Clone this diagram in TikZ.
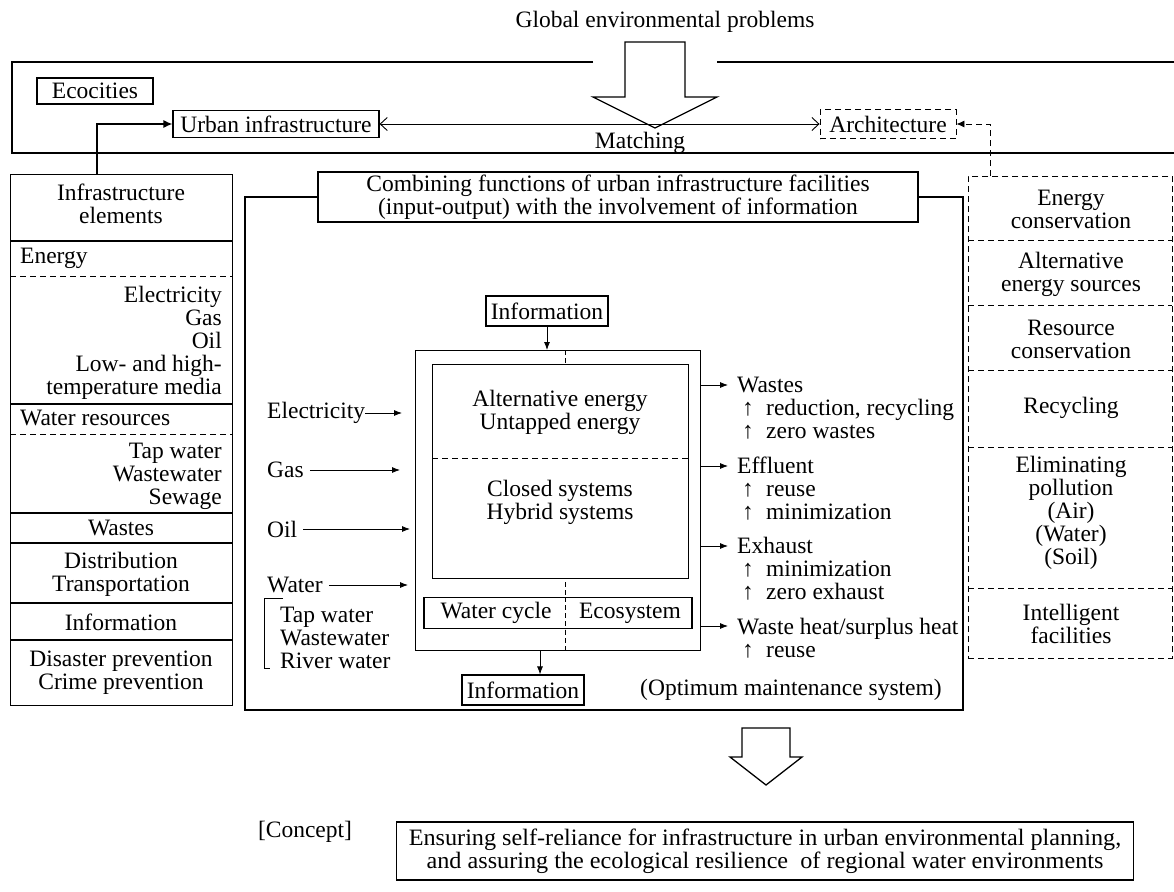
\documentclass[tikz,border=0pt]{standalone}
\usepackage{fontspec}
\setmainfont{Liberation Serif}
\usetikzlibrary{arrows.meta}
\newcommand\fs{\fontsize{23.5}{23}\selectfont}
\newcommand\up[1]{\hspace*{5pt}\makebox[24pt][l]{↑}#1}
\newcommand\wide[1]{\scalebox{1.03}[1]{#1}}
\begin{document}
\begin{tikzpicture}[x=1pt,y=-1pt,
  txt/.style={font=\fs, inner sep=0pt, align=center},
  box/.style={draw, line width=1.2pt, font=\fs, inner sep=0pt, align=center, fill=white},
  dbox/.style={box, dash pattern=on 6pt off 4pt, line width=0.9pt},
  rule/.style={line width=1.2pt},
  drule/.style={line width=0.9pt, dash pattern=on 6pt off 4pt},
  frame/.style={line width=1.6pt},
  arr/.style={line width=0.8pt, -{Latex[length=8pt,width=6pt]}},
  barbs/.style={line width=0.9pt, {Straight Barb[length=7pt,width=13pt]}-{Straight Barb[length=7pt,width=13pt]}},
  hollow/.style={line width=1.3pt, fill=white}]
\fill[white] (0,0) rectangle (1174,891);
\useasboundingbox (0,0) rectangle (1174,891);

% ---- top band ----
\node[txt] (title) at (665,22) {Global environmental problems};
\draw[frame] (593,62) -- (12,62) -- (12,153) -- (1174,153);
\draw[frame] (717,62) -- (1174,62);
\draw[hollow] (625,42) -- (685,42) -- (685,97) -- (717,97) -- (655,128) -- (593,97) -- (625,97) -- cycle;

\node[box, minimum width=116pt, minimum height=26pt] (eco) at (95,91) {Ecocities};
\node[box, minimum width=206pt, minimum height=27pt] (urban) at (276,124) {Urban infrastructure};
\node[dbox, minimum width=136pt, minimum height=29pt] (arch) at (888,124) {Architecture};
\draw[barbs] (urban.east) -- (arch.west);
\node[txt] (match) at (640,143) {Matching};

% ---- infrastructure elements column ----
\node[box, anchor=north west, minimum width=222pt, minimum height=531pt] (elem) at (10,174) {};
\coordinate (etap) at (97,174);
\draw[rule, -{Latex[length=9pt,width=8pt]}] (etap) |- (urban.west);
\node[txt] (e0) at (121,204) {Infrastructure\\elements};
\draw[rule] (10,241) -- (232,241);
\node[txt, anchor=west] (e1) at (20,258) {Energy};
\draw[drule] (10,276) -- (232,276);
\node[txt, anchor=east, align=right] (e2) at (222,343) {Electricity\\Gas\\Oil\\Low- and high-\\temperature media};
\draw[rule] (10,404) -- (232,404);
\node[txt, anchor=west] (e3) at (20,418) {Water resources};
\draw[drule] (10,434) -- (232,434);
\node[txt, anchor=east, align=right] (e4) at (222,476) {Tap water\\Wastewater\\Sewage};
\draw[rule] (10,513) -- (232,513);
\node[txt] (e5) at (121,528) {Wastes};
\draw[rule] (10,543) -- (232,543);
\node[txt] (e6) at (121,574) {Distribution\\Transportation};
\draw[rule] (10,603) -- (232,603);
\node[txt] (e7) at (121,622) {Information};
\draw[rule] (10,640) -- (232,640);
\node[txt] (e8) at (121,673) {Disaster prevention\\Crime prevention};

% ---- combined facilities frame ----
\node[box, minimum width=600pt, minimum height=50pt] (comb) at (618,197)
  {Combining functions of urban infrastructure facilities\\(input-output) with the involvement of information};
\draw[rule] (comb.west) -- (245,197) -- (245,710) -- (963,710) -- (963,197) -- (comb.east);

\node[box, minimum width=122pt, minimum height=30pt] (infoT) at (547,311) {Information};
\node[box, anchor=north west, minimum width=285pt, minimum height=300pt] (proc) at (415,350) {};
\draw[line width=0.6pt, dash pattern=on 5pt off 3pt] (565,350) -- (565,650);
\node[box, anchor=north west, minimum width=256pt, minimum height=214pt] (core) at (432,364) {};
\node[txt] (c1) at (560,412) {Alternative energy\\Untapped energy};
\draw[drule] (432,458) -- (688,458);
\node[txt] (c2) at (560,502) {Closed systems\\Hybrid systems};
\node[box, minimum width=268pt, minimum height=31pt] (wc) at (558,613) {};
\draw[line width=0.6pt, dash pattern=on 5pt off 3pt] (565,597) -- (565,629);
\node[txt] (wc1) at (496,613) {Water cycle};
\node[txt] (wc2) at (630,613) {Ecosystem};
\draw[arr] (infoT.south) -- (infoT.south |- proc.north);

\node[box, minimum width=122pt, minimum height=30pt] (infoB) at (523,690) {Information};
\coordinate (pout) at (540,650);
\draw[arr] (pout) -- (pout |- infoB.north);
\node[txt, anchor=west] (opt) at (640,690) {(Optimum maintenance system)};

% ---- inputs ----
\node[txt, anchor=west] (inE) at (267,413) {Electricity};
\node[txt, anchor=west] (inG) at (267,470) {Gas};
\node[txt, anchor=west] (inO) at (267,529) {Oil};
\node[txt, anchor=west] (inW) at (267,585) {Water};
\coordinate (tE) at (402,413);
\coordinate (tG) at (400,470);
\coordinate (tO) at (410,529);
\coordinate (tW) at (408,585);
\draw[arr] (inE.east) -- (tE);
\draw[arr] ([xshift=6pt]inG.east) -- (tG);
\draw[arr] ([xshift=6pt]inO.east) -- (tO);
\draw[arr] ([xshift=6pt]inW.east) -- (tW);
\draw[line width=0.7pt] (283,598) -- (264,598) -- (264,668) -- (270,668);
\node[txt, anchor=west, align=left] (inW2) at (280,638) {Tap water\\Wastewater\\River water};

% ---- outputs ----
\coordinate (o1) at (728,385);
\coordinate (o2) at (728,466);
\coordinate (o3) at (728,546);
\coordinate (o4) at (728,626);
\draw[arr] (proc.east |- o1) -- (o1);
\draw[arr] (proc.east |- o2) -- (o2);
\draw[arr] (proc.east |- o3) -- (o3);
\draw[arr] (proc.east |- o4) -- (o4);
\node[txt, anchor=west, align=left] (w1) at (737,408) {Wastes\\\up{reduction, recycling}\\\up{zero wastes}};
\node[txt, anchor=west, align=left] (w2) at (737,489) {Effluent\\\up{reuse}\\\up{minimization}};
\node[txt, anchor=west, align=left] (w3) at (737,569) {Exhaust\\\up{minimization}\\\up{zero exhaust}};
\node[txt, anchor=west, align=left] (w4) at (737,638) {Waste heat/surplus heat\\\up{reuse}};

% ---- goals column ----
\node[dbox, anchor=north west, minimum width=204pt, minimum height=482pt] (goals) at (968,176) {};
\coordinate (gtap) at (990,176);
\draw[drule, -{Latex[length=8pt,width=7pt]}] (gtap) |- (arch.east);
\node[txt] (g1) at (1071,209) {Energy\\conservation};
\draw[drule] (968,240) -- (1172,240);
\node[txt] (g2) at (1071,274) {Alternative\\energy sources};
\draw[drule] (968,305) -- (1172,305);
\node[txt] (g3) at (1071,339) {Resource\\conservation};
\draw[drule] (968,370) -- (1172,370);
\node[txt] (g4) at (1071,408) {Recycling};
\draw[drule] (968,447) -- (1172,447);
\node[txt] (g5) at (1071,513) {Eliminating\\pollution\\(Air)\\(Water)\\(Soil)};
\draw[drule] (968,588) -- (1172,588);
\node[txt] (g6) at (1071,624) {Intelligent\\facilities};

% ---- concept ----
\draw[hollow] (742,728) -- (790,728) -- (790,757) -- (802,757) -- (766,785) -- (730,757) -- (742,757) -- cycle;
\node[txt] (concept) at (305,832) {[Concept]};
\node[box, minimum width=737pt, minimum height=58pt] (goal) at (765,851)
  {\wide{Ensuring self-reliance for infrastructure in urban environmental planning,}\\\wide{and assuring the ecological resilience\ \ of regional water environments}};
\end{tikzpicture}
\end{document}
